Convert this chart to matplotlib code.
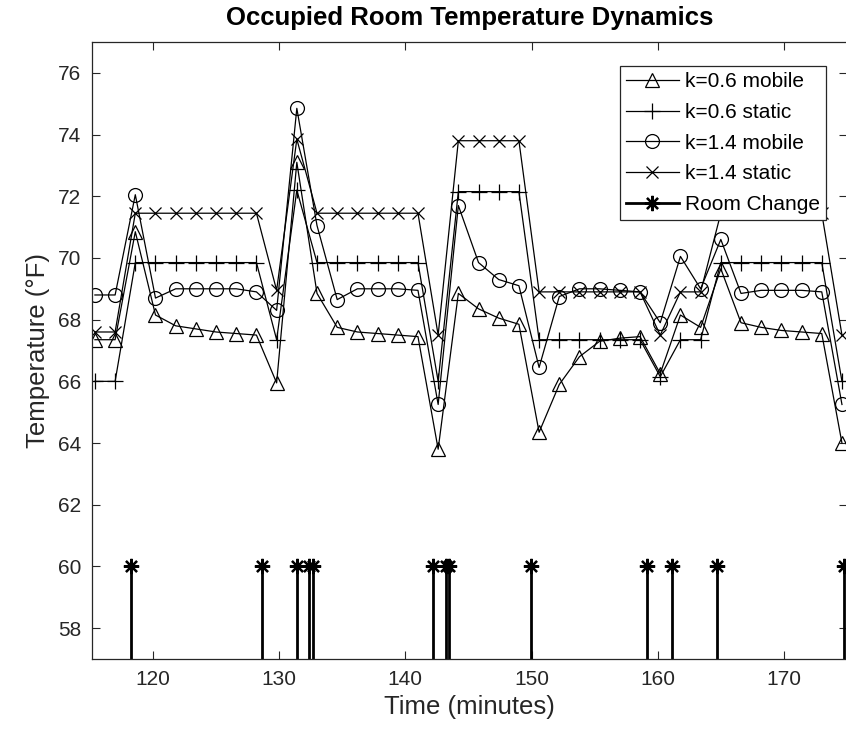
import matplotlib
matplotlib.use("Agg")
import matplotlib.pyplot as plt
from matplotlib.lines import Line2D

plt.rcParams['font.family'] = ['Liberation Sans', 'DejaVu Sans']

# sample times (minutes)
t = [115.4, 117.0, 118.6, 120.2, 121.8, 123.4, 125.0, 126.6, 128.2, 129.8,
     131.4, 133.0, 134.6, 136.2, 137.8, 139.4, 141.0, 142.6, 144.2, 145.8,
     147.4, 149.0, 150.6, 152.2, 153.8, 155.4, 157.0, 158.6, 160.2, 161.8,
     163.4, 165.0, 166.6, 168.2, 169.8, 171.4, 173.0, 174.6]

k06_mobile = [67.35, 67.35, 70.85, 68.15, 67.8, 67.7, 67.6, 67.55, 67.5, 65.95,
              73.1, 68.85, 67.75, 67.6, 67.55, 67.5, 67.45, 63.8, 68.85, 68.35,
              68.05, 67.85, 64.35, 65.9, 66.8, 67.3, 67.4, 67.45, 66.25, 68.15,
              67.75, 69.65, 67.9, 67.75, 67.65, 67.6, 67.55, 64.0]

k06_static = [66.0, 66.0, 69.85, 69.85, 69.85, 69.85, 69.85, 69.85, 69.85, 67.35,
              72.2, 69.85, 69.85, 69.85, 69.85, 69.85, 69.85, 66.0, 72.15, 72.15,
              72.15, 72.15, 67.35, 67.35, 67.35, 67.35, 67.35, 67.35, 66.15, 67.35,
              67.35, 69.85, 69.85, 69.85, 69.85, 69.85, 69.85, 66.0]

k14_mobile = [68.8, 68.8, 72.05, 68.7, 69.0, 69.0, 69.0, 69.0, 68.9, 68.3,
              74.85, 71.05, 68.65, 69.0, 69.0, 69.0, 68.95, 65.25, 71.7, 69.85,
              69.3, 69.1, 66.45, 68.75, 69.0, 69.0, 68.95, 68.9, 67.9, 70.05,
              69.0, 70.6, 68.85, 68.95, 68.95, 68.95, 68.9, 65.25]

k14_static = [67.6, 67.6, 71.45, 71.45, 71.45, 71.45, 71.45, 71.45, 71.45, 68.95,
              73.85, 71.45, 71.45, 71.45, 71.45, 71.45, 71.45, 67.5, 73.8, 73.8,
              73.8, 73.8, 68.9, 68.9, 68.9, 68.9, 68.9, 68.9, 67.5, 68.9,
              68.9, 71.45, 71.45, 71.45, 71.45, 71.45, 71.45, 67.5]

# room change events
change_t = [118.23, 128.67, 131.4, 132.33, 132.67, 142.17, 143.25, 143.44,
            149.98, 159.18, 161.17, 164.68, 174.74]
change_level = 60

fig = plt.figure(figsize=(8.46, 7.37), dpi=100)
ax = fig.add_axes([92.4 / 846, 1 - 659 / 737, (847 - 92.4) / 846, (659 - 42) / 737])

lw = 0.9
ax.plot(t, k06_mobile, '-^', color='k', lw=lw, ms=10, mfc='none', mew=lw, label='k=0.6 mobile')
ax.plot(t, k06_static, '-+', color='k', lw=lw, ms=12, mew=lw, label='k=0.6 static')
ax.plot(t, k14_mobile, '-o', color='k', lw=lw, ms=10, mfc='none', mew=lw, label='k=1.4 mobile')
ax.plot(t, k14_static, '-x', color='k', lw=lw, ms=9, mew=lw, label='k=1.4 static')

star = (8, 2, 0)
ax.vlines(change_t, 0, change_level, color='k', lw=2)
ax.plot(change_t, [change_level] * len(change_t), ls='none', marker=star,
        ms=11, color='k', mew=1.6)

ax.set_xlim(115.2, 175)
ax.set_ylim(57, 77)
ax.set_xticks([120, 130, 140, 150, 160, 170])
ax.set_yticks(range(58, 77, 2))

ax.tick_params(direction='in', top=True, right=True, length=6, width=0.8,
               labelsize=15, pad=8, colors='#262626', labelcolor='#262626')
for s in ax.spines.values():
    s.set_color('#262626')
    s.set_linewidth(0.9)

ax.set_xlabel('Time (minutes)', fontsize=18.5, color='#262626', labelpad=4)
ax.set_ylabel('Temperature (°F)', fontsize=18.5, color='#262626', labelpad=6)
ax.set_title('Occupied Room Temperature Dynamics', fontsize=18.5,
             fontweight='bold', pad=12)

handles, labels = ax.get_legend_handles_labels()
handles.append(Line2D([], [], color='k', lw=2, marker=star, ms=11, mew=1.6))
labels.append('Room Change')
leg = ax.legend(handles, labels, loc='upper right', bbox_to_anchor=(0.9722, 0.961),
                borderaxespad=0, fontsize=15, handlelength=2.5, handletextpad=0.3,
                labelspacing=0.56, borderpad=0.3, fancybox=False, framealpha=1,
                edgecolor='#262626')
leg.get_frame().set_linewidth(0.9)

fig.savefig('out.png', dpi=100)
